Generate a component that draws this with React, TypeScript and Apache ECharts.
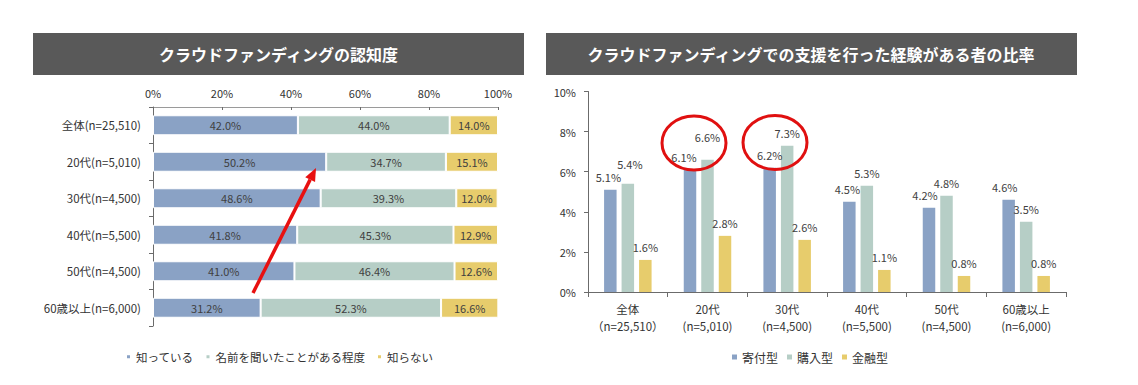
import React, { useEffect, useRef } from "react";
import * as echarts from "echarts";

// ---------- Left chart: awareness ----------
const awarenessCategories = [
  "全体(n=25,510)",
  "20代(n=5,010)",
  "30代(n=4,500)",
  "40代(n=5,500)",
  "50代(n=4,500)",
  "60歳以上(n=6,000)",
];
const knowValues = [42.0, 50.2, 48.6, 41.8, 41.0, 31.2];
const heardValues = [44.0, 34.7, 39.3, 45.3, 46.4, 52.3];
const unknownValues = [14.0, 15.1, 12.0, 12.9, 12.6, 16.6];
const awarenessSeriesNames = ["知っている", "名前を聞いたことがある程度", "知らない"];
const awarenessTitle = "クラウドファンディングの認知度";

// ---------- Right chart: support experience ----------
const supportCategories = [
  "全体\n（n=25,510）",
  "20代\n(n=5,010)",
  "30代\n(n=4,500)",
  "40代\n(n=5,500)",
  "50代\n(n=4,500)",
  "60歳以上\n(n=6,000)",
];
const donationValues = [5.1, 6.1, 6.2, 4.5, 4.2, 4.6];
const purchaseValues = [5.4, 6.6, 7.3, 5.3, 4.8, 3.5];
const financialValues = [1.6, 2.8, 2.6, 1.1, 0.8, 0.8];
const supportSeriesNames = ["寄付型", "購入型", "金融型"];
const supportTitle = "クラウドファンディングでの支援を行った経験がある者の比率";

const COLORS = ["#8AA2C5", "#B6CEC6", "#E7CC6C"];
const FONT = "'Noto Sans CJK JP', 'Noto Sans', sans-serif";
const TEXT = "#333333";
const LABEL = "#404040";
const AXIS = "#6b6b6b";

// small manual label nudges for the right chart (series index, data index) -> [dx, dy]
const labelNudges: Record<string, [number, number]> = {
  "0-0": [-2, 0],
  "1-0": [2, -7],
  "0-1": [-6, 0],
  "1-1": [0, -10],
  "0-3": [-2, 0],
  "0-4": [-4, 0],
  "0-5": [-4, 0],
};

export default function App() {
  const ref = useRef<HTMLDivElement>(null);

  useEffect(() => {
    document.body.style.margin = "0";
    document.body.style.overflow = "hidden";
    if (!ref.current) return;
    const chart = echarts.init(ref.current, undefined, { renderer: "svg" });

    const leftData = [knowValues, heardValues, unknownValues];
    const rightData = [donationValues, purchaseValues, financialValues];

    const leftSeries = leftData.map((vals, i) => ({
      name: awarenessSeriesNames[i],
      type: "bar",
      stack: "aw",
      xAxisIndex: 0,
      yAxisIndex: 0,
      barWidth: 20,
      data: vals,
      itemStyle: { color: COLORS[i], borderColor: "#ffffff", borderWidth: 1 },
      label: {
        show: true,
        position: "inside",
        color: LABEL,
        fontSize: 11,
        fontFamily: FONT,
        formatter: (p: any) => Number(p.value).toFixed(1) + "%",
      },
    }));

    const rightSeries = rightData.map((vals, i) => ({
      name: supportSeriesNames[i],
      type: "bar",
      xAxisIndex: 1,
      yAxisIndex: 1,
      barWidth: 12.5,
      barGap: "40%",
      data: vals.map((v, j) => {
        const nudge = labelNudges[`${i}-${j}`];
        return nudge ? { value: v, label: { offset: nudge } } : { value: v };
      }),
      itemStyle: { color: COLORS[i] },
      label: {
        show: true,
        position: "top",
        distance: 7,
        color: LABEL,
        fontSize: 11,
        fontFamily: FONT,
        formatter: (p: any) => Number(p.value).toFixed(1) + "%",
      },
    }));

    // arrow geometry (annotation)
    const tail = [253, 293];
    const tip = [316, 168];
    const dx = tip[0] - tail[0];
    const dy = tip[1] - tail[1];
    const len = Math.sqrt(dx * dx + dy * dy);
    const ux = dx / len;
    const uy = dy / len;
    const headLen = 13;
    const headHalf = 5.5;
    const bx = tip[0] - headLen * ux;
    const by = tip[1] - headLen * uy;
    const nx = -uy;
    const ny = ux;

    const option: any = {
      animation: false,
      backgroundColor: "#ffffff",
      textStyle: { fontFamily: FONT },
      grid: [
        { left: 153, top: 107, width: 345, height: 219, containLabel: false },
        { left: 588, top: 91.5, width: 478, height: 200.5, containLabel: false },
      ],
      xAxis: [
        {
          type: "value",
          gridIndex: 0,
          position: "top",
          min: 0,
          max: 100,
          interval: 20,
          axisLine: { show: true, lineStyle: { color: "#9a9a9a", width: 1 } },
          axisTick: { show: true, inside: true, length: 3, lineStyle: { color: "#6b6b6b" } },
          splitLine: { show: false },
          axisLabel: {
            formatter: "{value}%",
            color: TEXT,
            fontSize: 11,
            margin: 9,
            fontFamily: FONT,
          },
        },
        {
          type: "category",
          gridIndex: 1,
          data: supportCategories,
          axisLine: { show: true, lineStyle: { color: AXIS, width: 1 } },
          axisTick: { show: true, length: 5, lineStyle: { color: AXIS } },
          axisLabel: {
            color: TEXT,
            fontSize: 11.5,
            lineHeight: 17,
            margin: 8,
            fontFamily: FONT,
            interval: 0,
          },
        },
      ],
      yAxis: [
        {
          type: "category",
          gridIndex: 0,
          inverse: true,
          data: awarenessCategories,
          axisLine: { show: true, lineStyle: { color: AXIS, width: 1 } },
          axisTick: { show: true, length: 4, lineStyle: { color: AXIS } },
          axisLabel: {
            color: TEXT,
            fontSize: 11.5,
            margin: 12,
            fontFamily: FONT,
          },
        },
        {
          type: "value",
          gridIndex: 1,
          min: 0,
          max: 10,
          interval: 2,
          axisLine: { show: true, lineStyle: { color: AXIS, width: 1 } },
          axisTick: { show: true, length: 4, lineStyle: { color: AXIS } },
          splitLine: { show: false },
          axisLabel: {
            formatter: "{value}%",
            color: TEXT,
            fontSize: 11,
            margin: 12,
            fontFamily: FONT,
          },
        },
      ],
      legend: [
        {
          data: awarenessSeriesNames,
          left: 120,
          top: 346,
          icon: "rect",
          itemWidth: 5,
          itemHeight: 5,
          itemGap: 11,
          textStyle: { color: TEXT, fontSize: 11.5, fontFamily: FONT },
          selectedMode: false,
        },
        {
          data: supportSeriesNames,
          left: 727,
          top: 346,
          icon: "rect",
          itemWidth: 5,
          itemHeight: 5,
          itemGap: 9,
          textStyle: { color: TEXT, fontSize: 12, fontFamily: FONT },
          selectedMode: false,
        },
      ],
      series: [...leftSeries, ...rightSeries],
      graphic: [
        {
          type: "rect",
          shape: { x: 33, y: 33, width: 491, height: 42 },
          style: { fill: "#595959" },
          z: 10,
        },
        {
          type: "text",
          x: 278.5,
          y: 54,
          style: {
            text: awarenessTitle,
            fill: "#ffffff",
            font: `bold 16px ${FONT}`,
            textAlign: "center",
            textVerticalAlign: "middle",
          },
          z: 11,
        },
        {
          type: "rect",
          shape: { x: 546, y: 33, width: 531, height: 42 },
          style: { fill: "#595959" },
          z: 10,
        },
        {
          type: "text",
          x: 811,
          y: 54,
          style: {
            text: supportTitle,
            fill: "#ffffff",
            font: `bold 16px ${FONT}`,
            textAlign: "center",
            textVerticalAlign: "middle",
          },
          z: 11,
        },
        {
          type: "ellipse",
          shape: { cx: 694, cy: 143, rx: 32, ry: 27 },
          style: { fill: "none", stroke: "#E01010", lineWidth: 3 },
          z: 100,
        },
        {
          type: "ellipse",
          shape: { cx: 775, cy: 142.5, rx: 32, ry: 27 },
          style: { fill: "none", stroke: "#E01010", lineWidth: 3 },
          z: 100,
        },
        {
          type: "line",
          shape: { x1: tail[0], y1: tail[1], x2: bx, y2: by },
          style: { stroke: "#E81010", lineWidth: 3.5 },
          z: 100,
        },
        {
          type: "polygon",
          shape: {
            points: [
              [tip[0], tip[1]],
              [bx + headHalf * nx, by + headHalf * ny],
              [bx - headHalf * nx, by - headHalf * ny],
            ],
          },
          style: { fill: "#E81010" },
          z: 100,
        },
      ],
    };

    chart.setOption(option);
    return () => {
      chart.dispose();
    };
  }, []);

  return <div ref={ref} style={{ width: 1138, height: 385 }} />;
}
